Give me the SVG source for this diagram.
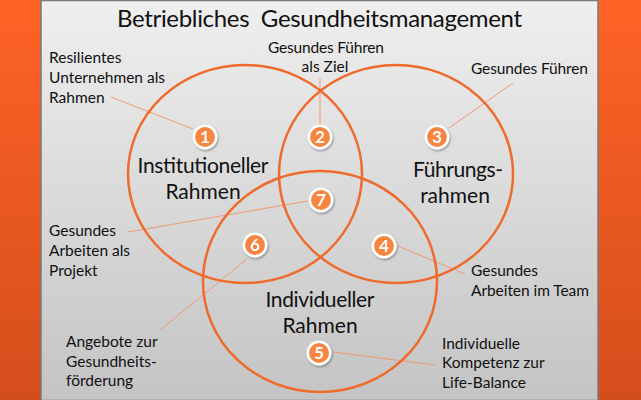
<svg xmlns="http://www.w3.org/2000/svg" width="641" height="400" viewBox="0 0 641 400">
<defs>
<linearGradient id="bar" x1="0" y1="0" x2="0" y2="1">
<stop offset="0" stop-color="#ff6326"/>
<stop offset="1" stop-color="#d44e1c"/>
</linearGradient>
<linearGradient id="panel" x1="0" y1="0" x2="0" y2="1">
<stop offset="0" stop-color="#efefef"/>
<stop offset="1" stop-color="#c4c4c4"/>
</linearGradient>
<filter id="sh" x="-50%" y="-50%" width="200%" height="200%">
<feDropShadow dx="1" dy="1.5" stdDeviation="1.2" flood-color="#000" flood-opacity="0.35"/>
</filter>
<style>
.ring{fill:none;stroke:#ef6a2b;stroke-width:2.5}
.lead{stroke:#f29364;stroke-width:0.9;fill:none}
.lbl{font-family:Lato,"Liberation Sans",sans-serif;font-size:15.5px;fill:#111}
.big{font-family:Lato,"Liberation Sans",sans-serif;font-size:21px;fill:#111;text-anchor:middle}
.ttl{font-family:Lato,"Liberation Sans",sans-serif;font-size:24px;fill:#111}
.bd circle{fill:#f5853f;stroke:#fff;stroke-width:2.5}
.bd text{font-family:Lato,"Liberation Sans",sans-serif;font-size:17px;font-weight:bold;fill:#fff;text-anchor:middle}
</style>
</defs>
<rect x="0" y="0" width="641" height="400" fill="url(#bar)"/>
<rect x="41" y="0.5" width="557" height="400" fill="url(#panel)" stroke="#7a7a7a" stroke-width="1.5"/>
<text class="ttl" x="117" y="27" textLength="405">Betriebliches&#160; Gesundheitsmanagement</text>

<g id="connectors">
<line class="lead" x1="111" y1="97" x2="193" y2="129"/>
<line class="lead" x1="320" y1="78" x2="320" y2="125"/>
<line class="lead" x1="513" y1="83" x2="449" y2="128"/>
<line class="lead" x1="128" y1="232" x2="308" y2="201"/>
<line class="lead" x1="159" y1="331" x2="247" y2="259"/>
<line class="lead" x1="398" y1="246" x2="465" y2="274"/>
<line class="lead" x1="333" y1="352" x2="435" y2="365"/>
</g>

<g id="circle-institutionell">
<ellipse class="ring" cx="245" cy="174" rx="117" ry="109"/>
<text class="big" x="203" y="173" textLength="131">Institutioneller</text>
<text class="big" x="203" y="199">Rahmen</text>
</g>
<g id="circle-fuehrung">
<ellipse class="ring" cx="396" cy="174" rx="117" ry="109"/>
<text class="big" x="458" y="177" textLength="90">Führungs-</text>
<text class="big" x="455" y="203">rahmen</text>
</g>
<g id="circle-individuell">
<ellipse class="ring" cx="320" cy="281.5" rx="117" ry="110.5"/>
<text class="big" x="320" y="307" textLength="109">Individueller</text>
<text class="big" x="320" y="333">Rahmen</text>
</g>

<g id="label-1">
<text class="lbl" x="49" y="63">Resilientes</text>
<text class="lbl" x="49" y="83" textLength="116">Unternehmen als</text>
<text class="lbl" x="49" y="103">Rahmen</text>
</g>
<g id="label-2">
<text class="lbl" x="326" y="53" text-anchor="middle" textLength="116">Gesundes Führen</text>
<text class="lbl" x="325" y="72" text-anchor="middle">als Ziel</text>
</g>
<g id="label-3">
<text class="lbl" x="471" y="74" textLength="117">Gesundes Führen</text>
</g>
<g id="label-7">
<text class="lbl" x="49" y="236">Gesundes</text>
<text class="lbl" x="49" y="256">Arbeiten als</text>
<text class="lbl" x="49" y="276">Projekt</text>
</g>
<g id="label-6">
<text class="lbl" x="66" y="347">Angebote zur</text>
<text class="lbl" x="66" y="367">Gesundheits-</text>
<text class="lbl" x="66" y="386">förderung</text>
</g>
<g id="label-4">
<text class="lbl" x="471" y="276">Gesundes</text>
<text class="lbl" x="471" y="296" textLength="118">Arbeiten im Team</text>
</g>
<g id="label-5">
<text class="lbl" x="442" y="349">Individuelle</text>
<text class="lbl" x="442" y="368">Kompetenz zur</text>
<text class="lbl" x="442" y="388">Life-Balance</text>
</g>

<g id="badge-1" class="bd" filter="url(#sh)"><circle cx="205" cy="137" r="11.2"/><text x="205" y="143">1</text></g>
<g id="badge-2" class="bd" filter="url(#sh)"><circle cx="320" cy="137" r="11.2"/><text x="320" y="143">2</text></g>
<g id="badge-3" class="bd" filter="url(#sh)"><circle cx="437" cy="137" r="11.2"/><text x="437" y="143">3</text></g>
<g id="badge-4" class="bd" filter="url(#sh)"><circle cx="384" cy="246" r="11.2"/><text x="384" y="252">4</text></g>
<g id="badge-5" class="bd" filter="url(#sh)"><circle cx="319" cy="353" r="11.2"/><text x="319" y="359">5</text></g>
<g id="badge-6" class="bd" filter="url(#sh)"><circle cx="255" cy="245" r="11.2"/><text x="255" y="251">6</text></g>
<g id="badge-7" class="bd" filter="url(#sh)"><circle cx="321" cy="200" r="11.2"/><text x="321" y="206">7</text></g>
</svg>
